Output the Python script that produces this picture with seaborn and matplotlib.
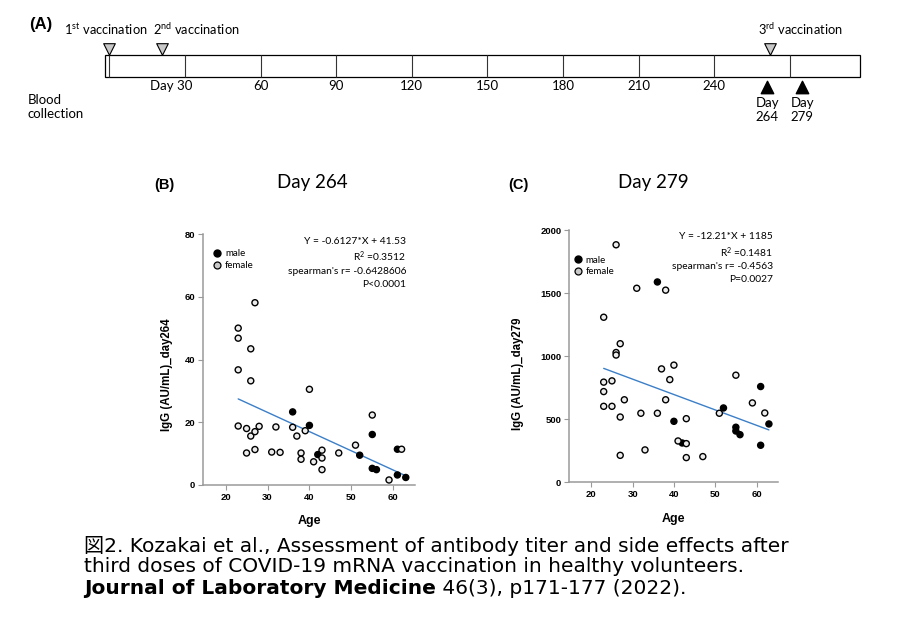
import matplotlib
matplotlib.use("Agg")
import matplotlib.pyplot as plt
from matplotlib.lines import Line2D
from matplotlib.patches import Rectangle
import numpy as np
import pandas as pd
import seaborn as sns

# ---- panel A: study timeline ----
grid_days = [0, 30, 60, 90, 120, 150, 180, 210, 240, 270]
tick_days = [30, 60, 90, 120, 150, 180, 210, 240]
tick_labels = ["Day 30", "60", "90", "120", "150", "180", "210", "240"]
vacc_days = [0, 21, 262]
vacc_labels = ["1$^{\\rm st}$ vaccination", "2$^{\\rm nd}$ vaccination", "3$^{\\rm rd}$ vaccination"]
blood_days = [261, 275]
blood_labels = ["Day\n264", "Day\n279"]

# ---- panel B: IgG at day 264 ----
age_b_male = [36, 40, 42, 52, 55, 55, 56, 61, 61, 63]
igg_b_male = [23.3, 19.0, 9.7, 9.5, 16.1, 5.3, 4.9, 11.4, 3.2, 2.4]
age_b_female = [23, 23, 23, 23, 25, 25, 26, 26, 26, 27, 27, 27, 28, 31, 32, 33,
                36, 37, 38, 38, 39, 40, 41, 43, 43, 43, 47, 51, 55, 59, 62]
igg_b_female = [50.0, 46.8, 36.7, 18.8, 18.0, 10.2, 43.4, 33.2, 15.6, 58.1, 17.0, 11.3,
                18.7, 10.5, 18.5, 10.4, 18.4, 15.6, 10.2, 8.2, 17.3, 30.5, 7.4,
                11.1, 8.6, 4.9, 10.2, 12.7, 22.3, 1.6, 11.4]
fit_b = (-0.6127, 41.53)
stats_b = ["Y = -0.6127*X + 41.53", "R$^2$ =0.3512", "spearman's r= -0.6428606", "P<0.0001"]

# ---- panel C: IgG at day 279 ----
age_c_male = [36, 40, 42, 52, 55, 55, 56, 61, 61, 63]
igg_c_male = [1590, 484, 312, 590, 437, 407, 378, 760, 294, 463]
age_c_female = age_b_female
igg_c_female = [1310, 795, 720, 603, 805, 603, 1885, 1030, 1010, 1100, 518, 214,
                655, 1540, 548, 257, 548, 900, 1525, 655, 815, 930, 328,
                505, 307, 196, 204, 548, 850, 630, 550]
fit_c = (-12.21, 1185)
stats_c = ["Y = -12.21*X + 1185", "R$^2$ =0.1481", "spearman's r= -0.4563", "P=0.0027"]

sns.set_style("ticks")
plt.rcParams["font.family"] = ["Lato", "DejaVu Sans"]
plt.rcParams["mathtext.fontset"] = "custom"
plt.rcParams["mathtext.rm"] = "Lato"
plt.rcParams["mathtext.it"] = "Lato:italic"
plt.rcParams["mathtext.bf"] = "Lato:bold"
plt.rcParams["text.color"] = "black"
plt.rcParams["axes.labelcolor"] = "black"
plt.rcParams["xtick.labelcolor"] = "black"
plt.rcParams["ytick.labelcolor"] = "black"

BOLD = ["Liberation Sans", "DejaVu Sans"]

W, H = 900, 623
fig = plt.figure(figsize=(W / 100, H / 100), dpi=100)
fig.patch.set_facecolor("white")


def px2day(px):
    return (px - 109.4) / 2.52


# timeline axes: x in days, y in pixel rows of the top band
ax_a = fig.add_axes([0, 1 - 140 / H, 1, 140 / H])
ax_a.set_xlim(px2day(0), px2day(W))
ax_a.set_ylim(140, 0)
ax_a.axis("off")
ax_a.add_patch(Rectangle((px2day(105), 55), px2day(860) - px2day(105), 21.7,
                         fill=False, edgecolor="black", lw=0.9))
ax_a.vlines(grid_days, 55, 76.7, color="#333333", lw=0.8)
ax_a.scatter(vacc_days, [48.6] * len(vacc_days), marker="v", s=70,
             facecolor="#c8c8c8", edgecolor="black", linewidth=0.8, zorder=3)
ax_a.scatter(blood_days, [86.5] * len(blood_days), marker="^", s=80,
             facecolor="black", edgecolor="black", zorder=3)
for d, lab in zip(tick_days, tick_labels):
    if lab.startswith("Day"):
        ax_a.text(d + 2.8, 86, lab, ha="right", va="center", fontsize=9.5)
    else:
        ax_a.text(d, 86, lab, ha="center", va="center", fontsize=9.5)
vacc_text_x = [px2day(106), px2day(196), px2day(800)]
for x, lab in zip(vacc_text_x, vacc_labels):
    ax_a.text(x, 29, lab, ha="center", va="center", fontsize=9.3)
for d, lab in zip(blood_days, blood_labels):
    ax_a.text(d, 110, lab, ha="center", va="center", fontsize=9.5, linespacing=1.25)
ax_a.text(px2day(28), 107, "Blood\ncollection", ha="left", va="center",
          fontsize=9.5, linespacing=1.3)
ax_a.text(px2day(29), 25, "(A)", ha="left", va="center", fontsize=12,
          fontweight="bold", family=BOLD)


def draw_scatter(ax, age_m, igg_m, age_f, igg_f, fit, stats, ylim, yticks, ylabel,
                 stat_pos, leg_pos, ylab_x, ylab_y):
    df = pd.DataFrame({
        "age": list(age_m) + list(age_f),
        "igg": list(igg_m) + list(igg_f),
        "sex": ["male"] * len(age_m) + ["female"] * len(age_f),
    })
    sns.scatterplot(data=df, x="age", y="igg", hue="sex",
                    palette={"male": "black", "female": "#ececec"},
                    edgecolor="black", linewidth=1.0, s=19, legend=False,
                    ax=ax, zorder=3)
    xs = np.array([df["age"].min(), df["age"].max()])
    sns.lineplot(x=xs, y=fit[0] * xs + fit[1], color="#3b7fc8", lw=1.0, ax=ax)

    ax.set_xlim(14.6, 65.2)
    ax.set_ylim(*ylim)
    ax.set_xticks([20, 30, 40, 50, 60])
    ax.set_yticks(yticks)
    sns.despine(ax=ax)
    for side in ["left", "bottom"]:
        ax.spines[side].set_color("#9a9a9a")
        ax.spines[side].set_linewidth(1.1)
    ax.tick_params(length=3.5, width=0.8, color="#9a9a9a", pad=2, labelsize=6.8)
    for lab in ax.get_xticklabels() + ax.get_yticklabels():
        lab.set_fontweight("bold")
        lab.set_family(BOLD)
    ax.set_xlabel("Age", fontsize=9, fontweight="bold", family=BOLD)
    ax.set_ylabel(ylabel, fontsize=8.3, fontweight="bold", family=BOLD)
    ax.xaxis.set_label_coords(0.5, -0.12)
    ax.yaxis.set_label_coords(ylab_x, ylab_y)

    for txt, yy in zip(stats, stat_pos[1]):
        ax.text(stat_pos[0], yy, txt, transform=ax.transAxes, ha="right",
                va="center", fontsize=7.4)

    handles = [
        Line2D([], [], ls="none", marker="o", markersize=5, markerfacecolor="black",
               markeredgecolor="black", label="male"),
        Line2D([], [], ls="none", marker="o", markersize=5, markerfacecolor="#c8c8c8",
               markeredgecolor="black", markeredgewidth=0.9, label="female"),
    ]
    ax.legend(handles=handles, loc="upper left", bbox_to_anchor=leg_pos,
              frameon=False, fontsize=7, handlelength=1.0, handletextpad=0.3,
              labelspacing=0.3, borderpad=0, borderaxespad=0)


ax_b = fig.add_axes([203 / W, (H - 485) / H, 212 / W, 251 / H])
draw_scatter(ax_b, age_b_male, igg_b_male, age_b_female, igg_b_female, fit_b, stats_b,
             (0, 80), [0, 20, 40, 60, 80], "IgG (AU/mL)_day264",
             (0.958, [0.972, 0.909, 0.849, 0.799]), (0.045, 0.94), -0.14, 0.44)

ax_c = fig.add_axes([569 / W, (H - 482.3) / H, 209 / W, 252 / H])
draw_scatter(ax_c, age_c_male, igg_c_male, age_c_female, igg_c_female, fit_c, stats_c,
             (0, 2000), [0, 500, 1000, 1500, 2000], "IgG (AU/mL)_day279",
             (0.976, [0.977, 0.913, 0.856, 0.804]), (0.018, 0.9), -0.215, 0.43)

# panel titles
fig.text(154 / W, 1 - 185 / H, "(B)", ha="left", va="center", fontsize=10.5,
         fontweight="bold", family=BOLD)
fig.text(312 / W, 1 - 183 / H, "Day 264", ha="center", va="center", fontsize=13.5)
fig.text(508 / W, 1 - 185 / H, "(C)", ha="left", va="center", fontsize=10.5,
         fontweight="bold", family=BOLD)
fig.text(653 / W, 1 - 183 / H, "Day 279", ha="center", va="center", fontsize=13.5)

# caption
cap_font = ["DejaVu Sans", "Noto Sans CJK JP"]
cap_size = 14.5
fig.text(84 / W, 1 - 546 / H,
         "図2. Kozakai et al., Assessment of antibody titer and side effects after",
         ha="left", va="center", fontsize=cap_size, family=cap_font)
fig.text(84 / W, 1 - 567 / H,
         "third doses of COVID-19 mRNA vaccination in healthy volunteers.",
         ha="left", va="center", fontsize=cap_size, family=cap_font)
t_bold = fig.text(84 / W, 1 - 588 / H, "Journal of Laboratory Medicine",
                  ha="left", va="center", fontsize=cap_size, family=cap_font,
                  fontweight="bold")
renderer = fig.canvas.get_renderer()
bb = t_bold.get_window_extent(renderer=renderer)
fig.text(bb.x1 / W, 1 - 588 / H, " 46(3), p171-177 (2022).",
         ha="left", va="center", fontsize=cap_size, family=cap_font)

fig.savefig("out.png", dpi=100, facecolor="white")
